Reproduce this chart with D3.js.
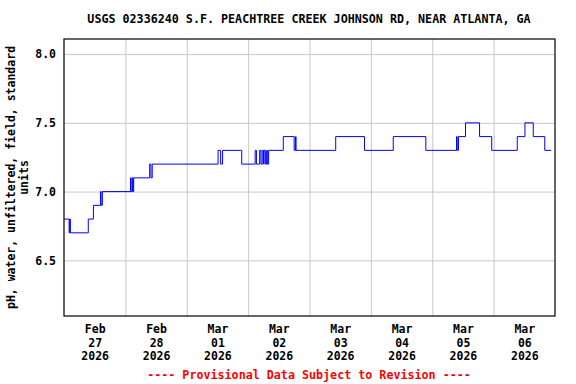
<!DOCTYPE html>
<html>
<head>
<meta charset="utf-8">
<script src="https://cdn.jsdelivr.net/npm/d3@7/dist/d3.min.js"></script>
<style>
  body { margin: 0; background: #fff; }
  text { font-family: "DejaVu Sans Mono", monospace; font-weight: bold; }
  .grid line { stroke: #c8c8c8; stroke-width: 1; }
  .grid path { display: none; }
</style>
</head>
<body>
<svg id="chart" width="576" height="384"></svg>
<script>
// pH change points: value holds until the next time
const changeTimes = [
  "2026-02-27 00:00", "2026-02-27 02:00", "2026-02-27 02:15", "2026-02-27 02:30",
  "2026-02-27 09:30", "2026-02-27 11:30", "2026-02-27 14:15", "2026-02-27 14:30",
  "2026-02-27 15:00", "2026-02-28 02:00", "2026-02-28 02:15", "2026-02-28 02:45",
  "2026-02-28 03:00", "2026-02-28 03:15", "2026-02-28 09:30", "2026-02-28 10:00",
  "2026-02-28 10:30", "2026-03-01 12:15", "2026-03-01 13:15", "2026-03-01 14:00",
  "2026-03-01 21:30", "2026-03-02 02:45", "2026-03-02 03:15", "2026-03-02 04:30",
  "2026-03-02 05:00", "2026-03-02 05:30", "2026-03-02 06:00", "2026-03-02 06:15",
  "2026-03-02 06:45", "2026-03-02 07:15", "2026-03-02 07:30", "2026-03-02 08:00",
  "2026-03-02 13:45", "2026-03-02 18:00", "2026-03-02 18:30", "2026-03-02 18:45",
  "2026-03-03 10:15", "2026-03-03 21:30", "2026-03-04 08:45", "2026-03-04 21:30",
  "2026-03-05 09:30", "2026-03-05 09:45", "2026-03-05 10:15", "2026-03-05 13:00",
  "2026-03-05 18:30", "2026-03-05 23:15", "2026-03-06 09:15", "2026-03-06 12:15",
  "2026-03-06 15:30", "2026-03-06 20:00", "2026-03-06 22:30"
];
const changeValues = [
  6.8, 6.7, 6.8, 6.7,
  6.8, 6.9, 7.0, 6.9,
  7.0, 7.1, 7.0, 7.1,
  7.0, 7.1, 7.2, 7.1,
  7.2, 7.3, 7.2, 7.3,
  7.2, 7.3, 7.2, 7.3,
  7.2, 7.3, 7.2, 7.3,
  7.2, 7.3, 7.2, 7.3,
  7.4, 7.3, 7.4, 7.3,
  7.4, 7.3, 7.4, 7.3,
  7.4, 7.3, 7.4, 7.5,
  7.4, 7.3, 7.4, 7.5,
  7.4, 7.3, 7.3
];
const yTicks = [6.5, 7.0, 7.5, 8.0];
const dayStart = "2026-02-27";
const dayEnd = "2026-03-07";
const title = "USGS 02336240 S.F. PEACHTREE CREEK JOHNSON RD, NEAR ATLANTA, GA";
const yLabelLines = ["pH, water, unfiltered, field, standard", "units"];
const footer = "---- Provisional Data Subject to Revision ----";

const parseTime = d3.timeParse("%Y-%m-%d %H:%M");
const parseDay = d3.timeParse("%Y-%m-%d");

const margin = {top: 39, right: 21, bottom: 68, left: 64};
const width = 576, height = 384;
const innerW = width - margin.left - margin.right;
const innerH = height - margin.top - margin.bottom;

const svg = d3.select("#chart");
const axis = svg.append("g").attr("transform", `translate(${margin.left},${margin.top})`);

const xScale = d3.scaleTime().domain([parseDay(dayStart), parseDay(dayEnd)]).range([0, innerW]);
const yScale = d3.scaleLinear().domain([6.095, 8.11]).range([innerH, 0]);

const days = d3.timeDay.range(parseDay(dayStart), d3.timeDay.offset(parseDay(dayEnd), 1));
const noons = d3.timeDay.range(parseDay(dayStart), parseDay(dayEnd)).map(d => d3.timeHour.offset(d, 12));

// grid
axis.append("g").attr("class", "grid")
    .attr("transform", `translate(0,${innerH})`)
    .call(d3.axisBottom(xScale).tickValues(days.slice(1, -1)).tickSize(-innerH).tickFormat(""));
axis.append("g").attr("class", "grid")
    .call(d3.axisLeft(yScale).tickValues(yTicks).tickSize(-innerW).tickFormat(""));

// data line
const data = changeTimes.map((t, i) => ({t: parseTime(t), v: changeValues[i]}));
const line = d3.line().x(d => xScale(d.t)).y(d => yScale(d.v)).curve(d3.curveStepAfter);
axis.append("path").datum(data)
    .attr("fill", "none").attr("stroke", "#0000ff").attr("stroke-width", 1)
    .attr("d", line);

// frame
axis.append("rect").attr("width", innerW).attr("height", innerH)
    .attr("fill", "none").attr("stroke", "#000").attr("stroke-width", 1.2);

// y tick labels
const yAx = axis.append("g").call(d3.axisLeft(yScale).tickValues(yTicks).tickSize(0).tickPadding(8).tickFormat(d3.format(".1f")));
yAx.select(".domain").remove();
yAx.selectAll("text").attr("font-size", 11.5).attr("fill", "#000")
    .style("font-family", "DejaVu Sans Mono").style("font-weight", "bold");

// x tick labels, three lines each
const fmtMon = d3.timeFormat("%b"), fmtDay = d3.timeFormat("%d"), fmtYr = d3.timeFormat("%Y");
const xAx = axis.append("g").attr("transform", `translate(0,${innerH})`)
    .call(d3.axisBottom(xScale).tickValues(noons).tickSize(0).tickFormat(""));
xAx.select(".domain").remove();
xAx.selectAll(".tick").each(function(d) {
    const t = d3.select(this).append("text")
        .attr("text-anchor", "middle").attr("font-size", 11.5).attr("fill", "#000");
    [fmtMon(d), fmtDay(d), fmtYr(d)].forEach((s, i) => {
        t.append("tspan").attr("x", 0).attr("y", 17 + i * 13.5).text(s);
    });
});

// title
svg.append("text").attr("x", 309).attr("y", 23)
    .attr("text-anchor", "middle").attr("font-size", 11.7).text(title);

// y label
const yl = svg.append("text").attr("transform", `translate(15,${margin.top + innerH / 2}) rotate(270)`)
    .attr("text-anchor", "middle").attr("font-size", 11.5);
yLabelLines.forEach((s, i) => yl.append("tspan").attr("x", 0).attr("y", i * 12.5).text(s));

// footer
svg.append("text").attr("x", 309).attr("y", 379)
    .attr("text-anchor", "middle").attr("font-size", 11.7).attr("fill", "#ff0000").text(footer);
</script>
</body>
</html>
